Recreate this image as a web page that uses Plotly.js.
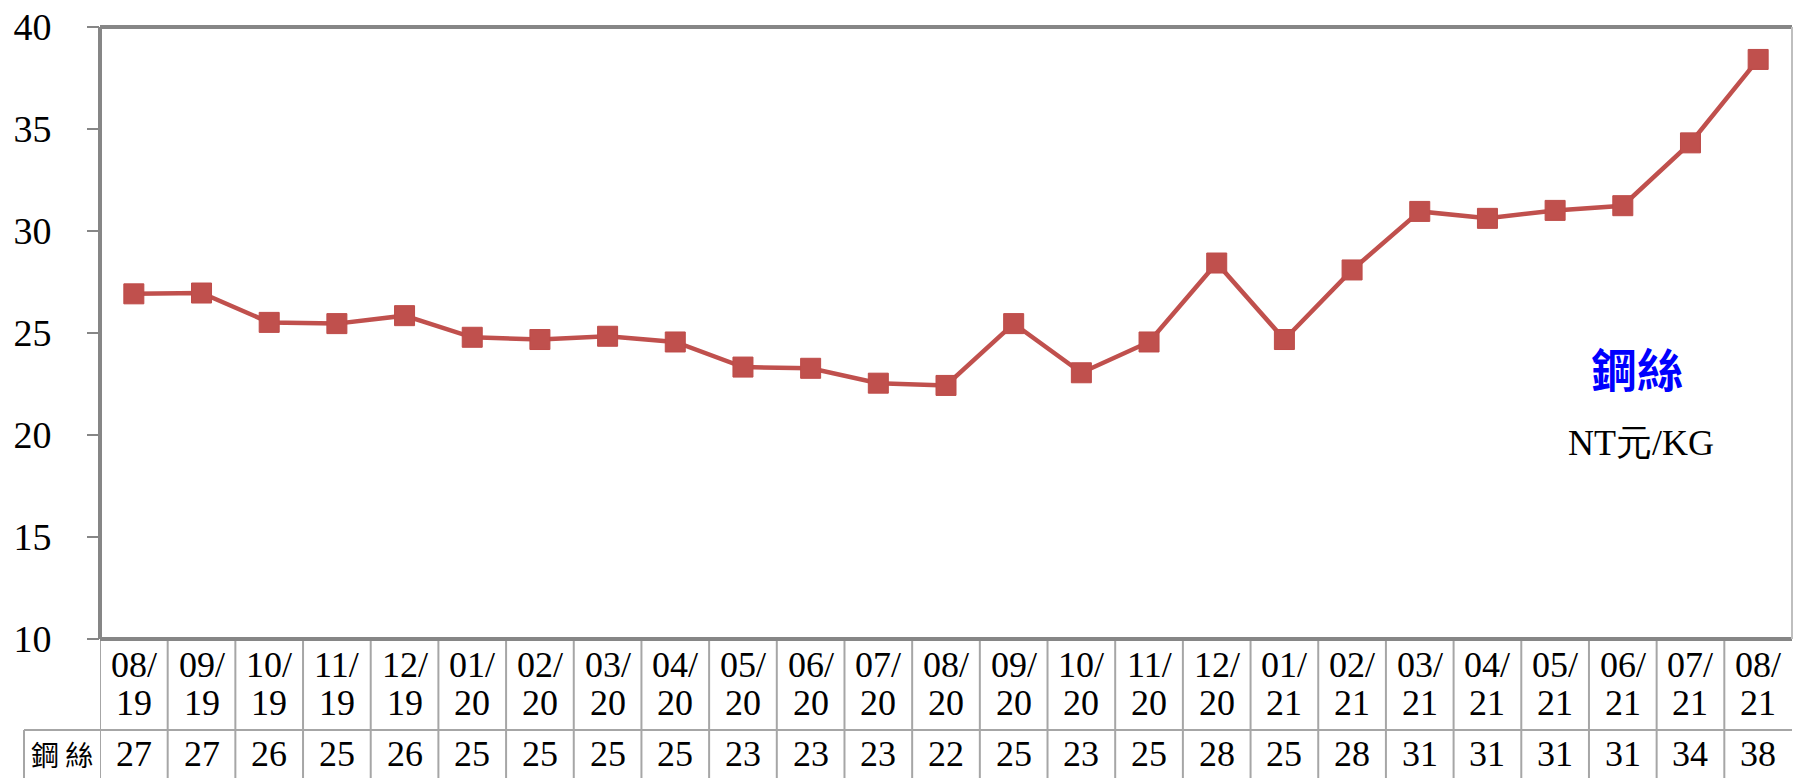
<!DOCTYPE html>
<html><head><meta charset="utf-8">
<script src="https://cdn.plot.ly/plotly-3.0.1.min.js"></script>
<style>html,body{margin:0;padding:0;background:#fff;overflow:hidden}#chart{width:1793px;height:778px}</style>
</head><body><div id="chart"></div>
<script>
// ---- data ----
const months = ['08/19','09/19','10/19','11/19','12/19','01/20','02/20','03/20','04/20','05/20','06/20','07/20','08/20','09/20','10/20','11/20','12/20','01/21','02/21','03/21','04/21','05/21','06/21','07/21','08/21'];
const prices = [26.92,26.96,25.52,25.46,25.85,24.79,24.68,24.84,24.56,23.33,23.27,22.54,22.43,25.46,23.05,24.56,28.43,24.68,28.09,30.96,30.62,31.01,31.24,34.32,38.41];
const tableLabels = ['27','27','26','25','26','25','25','25','25','23','23','23','22','25','23','25','28','25','28','31','31','31','31','34','38'];
const seriesName = '鋼絲';
const unitLabel = 'NT元/KG';
const yTicks = [10,15,20,25,30,35,40];

// ---- geometry ----
const W = 1793, H = 778;
const mL = 100, mR = 1, mT = 27, mB = 139;
const plotH = H - mT - mB;            // 612
const plotBottom = H - mB;            // 639
const py = p => (plotBottom - p) / plotH;   // pixel row -> paper y
const px = p => (p - mL) / (W - mL - mR);  // pixel col -> paper x
const SERIF = 'Liberation Serif, Times New Roman, serif';
const CJK = 'Noto Sans CJK TC, Noto Sans CJK SC, sans-serif';
const gridCol = '#A6A6A6';
const axisCol = '#868686';

const n = months.length;
const shapes = [];
// plot frame
shapes.push({type:'line', xref:'paper', yref:'paper', x0:0, x1:1, y0:1, y1:1, line:{color:axisCol, width:4}});
shapes.push({type:'line', xref:'paper', yref:'paper', x0:0, x1:1, y0:0, y1:0, line:{color:axisCol, width:4}});
shapes.push({type:'line', xref:'paper', yref:'paper', x0:0, x1:0, y0:0, y1:1, line:{color:axisCol, width:4}});
shapes.push({type:'line', xref:'paper', yref:'paper', x0:1, x1:1, y0:0, y1:1, line:{color:'#BFBFBF', width:2}});
// table grid
for (let i = 0; i < n; i++) {
  shapes.push({type:'line', xref:'x', yref:'paper', x0:i-0.5, x1:i-0.5, y0:py(639), y1:py(H), line:{color:gridCol, width:2}, layer:'below'});
}
shapes.push({type:'line', xref:'paper', yref:'paper', x0:px(24), x1:1, y0:py(730), y1:py(730), line:{color:gridCol, width:2}});
shapes.push({type:'line', xref:'paper', yref:'paper', x0:px(24), x1:px(24), y0:py(730), y1:py(H), line:{color:gridCol, width:2}});

const annotations = [];
const cellFont = {family:SERIF, size:36, color:'#000'};
months.forEach((m, i) => {
  const parts = m.split('/');
  annotations.push({xref:'x', yref:'paper', x:i, y:py(665), text:parts[0] + '/', showarrow:false, xanchor:'center', yanchor:'middle', font:cellFont});
  annotations.push({xref:'x', yref:'paper', x:i, y:py(703), text:parts[1], showarrow:false, xanchor:'center', yanchor:'middle', font:cellFont});
  annotations.push({xref:'x', yref:'paper', x:i, y:py(754), text:tableLabels[i], showarrow:false, xanchor:'center', yanchor:'middle', font:cellFont});
});
annotations.push({xref:'paper', yref:'paper', x:px(62), y:py(754), text:seriesName.split('').join(' '), showarrow:false, xanchor:'center', yanchor:'middle', font:{family:CJK, size:28, color:'#000'}});
annotations.push({xref:'paper', yref:'paper', x:px(1637), y:py(367), text:'<b>' + seriesName + '</b>', showarrow:false, xanchor:'center', yanchor:'middle', font:{family:CJK, size:46, color:'#0000FF'}});
annotations.push({xref:'paper', yref:'paper', x:px(1641), y:py(443), text:unitLabel, showarrow:false, xanchor:'center', yanchor:'middle', font:{family:SERIF, size:36, color:'#000'}});

const trace = {
  x: months, y: prices, type:'scatter', mode:'lines+markers', name: seriesName,
  line:{color:'#C0504D', width:4.5},
  marker:{symbol:'square', size:20, color:'#C0504D', line:{color:'#BE4B48', width:1}},
  cliponaxis:false, hoverinfo:'x+y'
};

const layout = {
  width:W, height:H,
  margin:{l:mL, r:mR, t:mT, b:mB, pad:0},
  paper_bgcolor:'#fff', plot_bgcolor:'#fff',
  showlegend:false,
  xaxis:{type:'category', range:[-0.5, n-0.5], showticklabels:false, ticks:'', showgrid:false, zeroline:false, showline:false, fixedrange:true},
  yaxis:{range:[10,40], tickvals:yTicks, ticktext:yTicks.map(String), ticks:'outside', ticklen:12, tickwidth:2, tickcolor:axisCol,
         ticklabelstandoff:28, showgrid:false, zeroline:false, showline:false,
         tickfont:{family:SERIF, size:38, color:'#000'}, fixedrange:true},
  shapes, annotations
};

Plotly.newPlot('chart', [trace], layout, {displayModeBar:false, staticPlot:true});
</script></body></html>
